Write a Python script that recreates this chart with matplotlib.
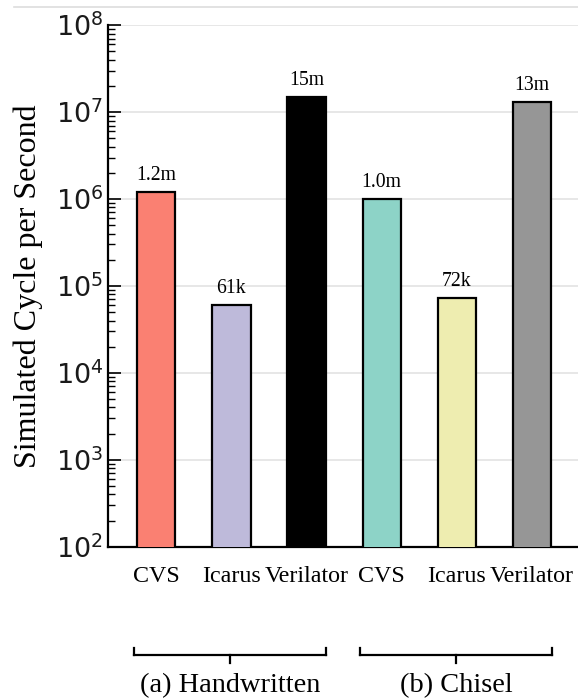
import matplotlib
matplotlib.use("Agg")
import matplotlib.pyplot as plt
from matplotlib.lines import Line2D
import numpy as np

# Simulation throughput per simulator, for two design sources
simulators = ["CVS", "Icarus", "Verilator", "CVS", "Icarus", "Verilator"]
groups = ["(a) Handwritten", "(b) Chisel"]
cycles_per_sec = [1.2e6, 61e3, 15e6, 1.0e6, 72e3, 13e6]
value_labels = ["1.2m", "61k", "15m", "1.0m", "72k", "13m"]
bar_colors = ["#fa8072", "#bebada", "#000000", "#8dd3c7", "#eeedb0", "#969696"]

serif = ["Liberation Serif", "DejaVu Serif"]

fig = plt.figure(figsize=(5.78, 7.0), dpi=100)
ax = fig.add_axes([0.187, 0.219, 0.813, 0.745])

x = np.arange(len(simulators))
ax.set_yscale("log")
ax.bar(x, cycles_per_sec, width=0.51, color=bar_colors,
       edgecolor="black", linewidth=1.6, zorder=3)

for xi, v, lab in zip(x, cycles_per_sec, value_labels):
    ax.text(xi, v * 1.2, lab, ha="center", va="bottom",
            fontsize=14.2, family=serif, zorder=4)

ax.set_ylim(1e2, 1e8)
ax.set_xlim(-0.64, 5.61)
ax.set_xticks(x)
ax.set_xticklabels(simulators, family=serif, fontsize=17.3)
ax.tick_params(axis="x", length=0, pad=14)
ax.tick_params(axis="y", which="major", direction="in", length=9, width=1.2,
               labelsize=19.5, pad=3.5, labelcolor="#1a1a1a")
ax.tick_params(axis="y", which="minor", direction="in", length=5, width=1.0)

ax.yaxis.grid(True, which="major", color="#e3e3e3", linewidth=1.2, zorder=0)
ax.set_axisbelow(True)

for side in ["top", "right"]:
    ax.spines[side].set_visible(False)
for side in ["left", "bottom"]:
    ax.spines[side].set_linewidth(1.6)

ax.set_ylabel("Simulated Cycle per Second", family=serif, fontsize=23, labelpad=9)

# Group brackets beneath the simulator names
trans = ax.get_xaxis_transform()
y_line = -0.207
for g, (start, end) in enumerate([(0, 2), (3, 5)]):
    x0 = x[start] - 0.29
    x1 = x[end] + 0.26
    xc = (x0 + x1) / 2
    kw = dict(color="black", linewidth=1.6, transform=trans, clip_on=False)
    ax.add_line(Line2D([x0, x1], [y_line, y_line], **kw))
    ax.add_line(Line2D([x0, x0], [y_line, y_line + 0.012], **kw))
    ax.add_line(Line2D([x1, x1], [y_line, y_line + 0.012], **kw))
    ax.add_line(Line2D([xc, xc], [y_line, y_line - 0.016], **kw))
    ax.text(xc, y_line - 0.036, groups[g], transform=trans, ha="center",
            va="top", family=serif, fontsize=20.4)

# Thin rule along the top of the figure
fig.add_artist(Line2D([0.025, 1.0], [0.99, 0.99], color="#dddddd",
                      linewidth=1.2, transform=fig.transFigure))

fig.savefig("out.png", dpi=100)
